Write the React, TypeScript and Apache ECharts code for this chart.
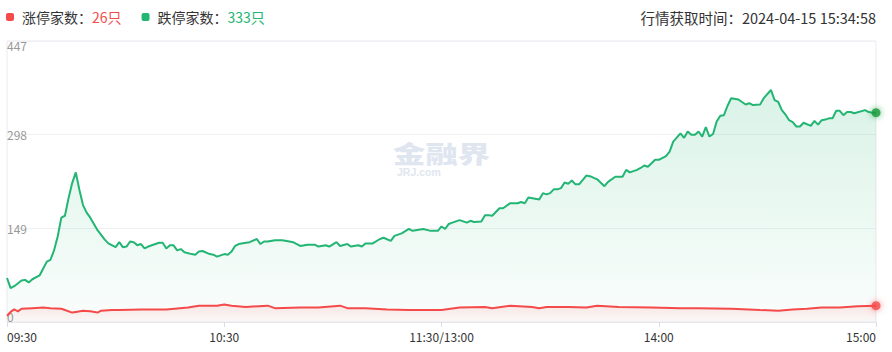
import React, { useEffect, useRef } from 'react';
import * as echarts from 'echarts';

// ---- data ----
const timeTickLabels = ['09:30', '10:30', '11:30/13:00', '14:00', '15:00'];
const yMax = 447;
const yInterval = 149;
const limitUpCount = 26;
const limitDownCount = 333;
const fetchTime = '2024-04-15 15:34:58';

// 跌停家数 (minute index since 09:30, trading minutes 0..240)
const downMinutes = [
  0, 1, 2, 4, 5, 6, 7, 9, 10, 11, 12, 13, 14, 15, 16, 17, 18, 19, 20, 21,
  22, 23, 24, 25, 27, 28, 30, 31, 32, 33, 34, 35, 36, 37, 38, 39, 40, 42, 43, 44,
  45, 46, 47, 48, 49, 51, 52, 53, 54, 56, 57, 58, 60, 61, 62, 63, 64, 66, 67, 69,
  70, 71, 72, 74, 76, 78, 79, 81, 83, 85, 86, 88, 89, 91, 92, 94, 95, 97, 98, 99,
  101, 103, 104, 106, 107, 109, 111, 112, 115, 117, 119, 120, 121, 122, 123, 125, 127, 128, 129, 131,
  132, 133, 134, 136, 137, 139, 141, 142, 143, 144, 147, 148, 149, 150, 151, 152, 153, 154, 155, 156,
  157, 158, 160, 161, 163, 165, 166, 168, 170, 171, 172, 174, 175, 176, 177, 179, 180, 182, 183, 184,
  186, 187, 188, 189, 190, 191, 192, 193, 194, 195, 196, 197, 198, 199, 200, 202, 203, 204, 205, 206,
  208, 209, 211, 212, 213, 214, 215, 216, 217, 218, 219, 220, 222, 223, 224, 225, 226, 227, 228, 229,
  230, 231, 232, 233, 234, 237, 238, 239, 240,
];
const downValues = [
  70, 54, 57, 66, 67, 63, 68, 74, 85, 96, 99, 114, 136, 166, 169, 197, 221, 238, 210, 186,
  174, 166, 156, 146, 131, 125, 119, 127, 119, 120, 128, 127, 122, 124, 117, 120, 122, 126, 126, 117,
  122, 122, 114, 116, 111, 108, 107, 112, 113, 108, 107, 104, 108, 107, 112, 121, 124, 126, 127, 132,
  124, 128, 128, 130, 130, 128, 127, 121, 123, 123, 120, 122, 120, 127, 121, 124, 120, 122, 120, 125,
  125, 132, 134, 129, 137, 141, 148, 145, 148, 145, 145, 152, 148, 156, 158, 162, 158, 161, 159, 160,
  170, 170, 169, 181, 181, 189, 189, 191, 189, 198, 195, 205, 203, 205, 211, 211, 213, 222, 220, 225,
  219, 219, 233, 232, 227, 216, 223, 231, 231, 242, 238, 242, 245, 249, 247, 258, 258, 264, 271, 287,
  300, 293, 303, 298, 298, 303, 295, 310, 295, 299, 319, 328, 329, 344, 356, 354, 350, 346, 348, 345,
  346, 356, 369, 353, 350, 337, 330, 321, 318, 311, 311, 317, 312, 320, 314, 321, 322, 324, 324, 336,
  336, 329, 334, 334, 332, 337, 334, 333, 333,
];

// 涨停家数
const upMinutes = [
  0, 1, 2, 3, 4, 7, 10, 12, 15, 16, 18, 19, 21, 23, 25, 26, 29, 31, 37, 44,
  50, 53, 58, 60, 62, 66, 72, 74, 81, 86, 92, 94, 99, 105, 111, 120, 125, 132, 134, 139,
  145, 147, 149, 155, 160, 163, 169, 178, 186, 191, 200, 208, 213, 217, 221, 225, 230, 235, 240,
];
const upValues = [
  10, 16, 20, 17, 21, 22, 23, 22, 21, 19, 15, 16, 18, 17, 15, 18, 19, 19, 20, 20,
  23, 26, 26, 28, 26, 24, 26, 22, 23, 23, 26, 22, 22, 20, 19, 19, 23, 24, 22, 26,
  24, 22, 24, 24, 23, 26, 24, 23, 22, 22, 21, 19, 18, 20, 21, 23, 23, 25, 26,
];

const GREEN = '#22b573';
const RED = '#f54a4a';
const FONT = '"Noto Sans CJK SC", "Microsoft YaHei", sans-serif';

export default function App() {
  const ref = useRef<HTMLDivElement>(null);

  useEffect(() => {
    if (!ref.current) return;
    const chart = echarts.init(ref.current, null, { renderer: 'svg' });

    const downData = downMinutes.map((m, i) => [m, downValues[i]]);
    const upData = upMinutes.map((m, i) => [m, upValues[i]]);
    const lastDown = downData[downData.length - 1];
    const lastUp = upData[upData.length - 1];

    const option: any = {
      animation: false,
      textStyle: { fontFamily: FONT },
      title: {
        text: `行情获取时间：${fetchTime}`,
        right: 16,
        top: 10,
        padding: 0,
        textStyle: { fontSize: 14.5, fontWeight: 'normal', color: '#333', fontFamily: FONT },
      },
      legend: {
        left: 6,
        top: 10,
        padding: 0,
        itemWidth: 8,
        itemHeight: 8,
        itemGap: 20,
        icon: 'roundRect',
        data: ['涨停家数', '跌停家数'],
        formatter: (name: string) =>
          name === '涨停家数'
            ? `{n|${name}：}{r|${limitUpCount}只}`
            : `{n|${name}：}{g|${limitDownCount}只}`,
        textStyle: {
          fontFamily: FONT,
          rich: {
            n: { fontSize: 14, color: '#333', padding: [0, 0, 0, 3], fontFamily: FONT },
            r: { fontSize: 14, color: RED, fontFamily: FONT },
            g: { fontSize: 14, color: GREEN, fontFamily: FONT },
          },
        },
      },
      grid: {
        left: 7,
        right: 16,
        top: 41,
        bottom: 30,
        show: true,
        borderColor: '#ebebf2',
        borderWidth: 1,
        backgroundColor: 'transparent',
      },
      graphic: [
        {
          type: 'text',
          z: 0,
          x: 393,
          y: 139,
          scaleX: 1.35,
          style: {
            text: '金融界',
            fontSize: 24,
            lineHeight: 26,
            fontWeight: 900,
            fill: '#dfe6f0',
            fontFamily: FONT,
          },
        },
        {
          type: 'text',
          z: 0,
          x: 397,
          y: 166,
          style: {
            text: 'JRJ.com',
            fontSize: 10.5,
            lineHeight: 11,
            fontWeight: 'bold',
            fill: '#dfe6f0',
            fontFamily: 'Arial, "Liberation Sans", sans-serif',
          },
        },
      ],
      xAxis: {
        type: 'value',
        min: 0,
        max: 240,
        interval: 60,
        axisLine: { show: true, lineStyle: { color: '#e6e6ec' } },
        axisTick: { show: true, length: 5, lineStyle: { color: '#dcdce4' } },
        splitLine: { show: false },
        axisLabel: {
          color: '#333',
          fontSize: 12,
          margin: 8,
          fontFamily: FONT,
          alignMinLabel: 'left',
          alignMaxLabel: 'right',
          formatter: (v: number) => timeTickLabels[Math.round(v / 60)] ?? '',
        },
      },
      yAxis: {
        type: 'value',
        min: 0,
        max: yMax,
        interval: yInterval,
        axisLine: { show: false },
        axisTick: { show: false },
        splitLine: { show: true, lineStyle: { color: '#f0f0f3' } },
        axisLabel: {
          inside: true,
          margin: 0,
          formatter: (v: number) =>
            v === yMax ? `{t|${v}}` : v === 0 ? `{b|${v}}` : `{m|${v}}`,
          rich: {
            t: { color: '#999', fontSize: 12, padding: [9, 0, 0, 0], fontFamily: FONT },
            m: { color: '#999', fontSize: 12, fontFamily: FONT },
            b: { color: '#999', fontSize: 12, padding: [0, 0, 12, 0], fontFamily: FONT },
          },
        },
      },
      series: [
        {
          name: '跌停家数',
          type: 'line',
          data: downData,
          showSymbol: false,
          color: GREEN,
          lineStyle: { width: 2, color: GREEN },
          areaStyle: {
            color: new echarts.graphic.LinearGradient(0, 0, 0, 1, [
              { offset: 0, color: 'rgba(34,181,115,0.24)' },
              { offset: 1, color: 'rgba(34,181,115,0.03)' },
            ]),
          },
          z: 2,
        },
        {
          name: '涨停家数',
          type: 'line',
          data: upData,
          showSymbol: false,
          color: RED,
          lineStyle: { width: 2, color: RED },
          areaStyle: {
            color: new echarts.graphic.LinearGradient(0, 0, 0, 1, [
              { offset: 0, color: 'rgba(245,74,74,0.18)' },
              { offset: 1, color: 'rgba(245,74,74,0.04)' },
            ]),
          },
          z: 3,
        },
        {
          type: 'scatter',
          data: [lastDown],
          symbolSize: 9,
          itemStyle: { color: '#1a9a3a', shadowBlur: 6, shadowColor: 'rgba(26,154,58,0.8)' },
          z: 5,
          silent: true,
        },
        {
          type: 'scatter',
          data: [lastUp],
          symbolSize: 9,
          itemStyle: { color: RED, shadowBlur: 6, shadowColor: 'rgba(245,74,74,0.8)' },
          z: 5,
          silent: true,
        },
      ],
    };

    chart.setOption(option);
    return () => chart.dispose();
  }, []);

  return (
    <div
      ref={ref}
      style={{ position: 'absolute', left: 0, top: 0, width: 892, height: 352 }}
    />
  );
}
